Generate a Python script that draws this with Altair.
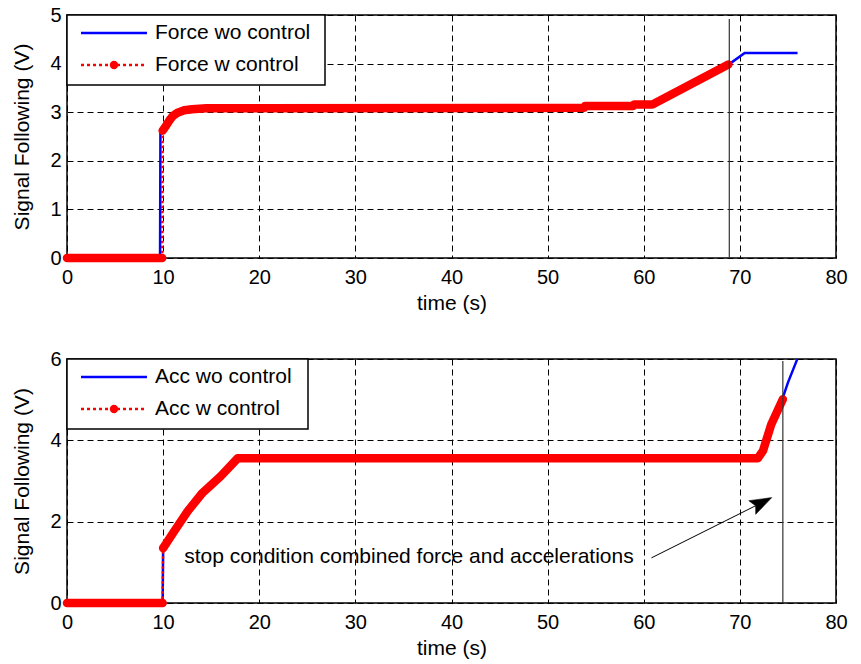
import altair as alt
import pandas as pd

FONT = "Liberation Sans"

# ---------------- data ----------------
x_ticks = [0, 10, 20, 30, 40, 50, 60, 70, 80]
force_y_ticks = [0, 1, 2, 3, 4, 5]
acc_y_ticks = [0, 2, 4, 6]

# Force, without control (blue)
force_wo_t = [0, 9.68, 9.72, 10.3, 10.65, 11.0, 11.5, 12.2, 13.0, 14.5, 53.8, 53.9, 58.9, 59.0, 60.9, 68.9, 70.5, 76.0]
force_wo_v = [0, 0, 2.62, 2.72, 2.83, 2.92, 2.99, 3.04, 3.06, 3.08, 3.09, 3.13, 3.13, 3.16, 3.16, 3.99, 4.22, 4.22]
# Force, with control (red)
force_w_t = [0, 9.9, 9.95, 10.3, 10.65, 11.0, 11.5, 12.2, 13.0, 14.5, 53.8, 53.9, 58.9, 59.0, 60.9, 68.8]
force_w_v = [0, 0, 2.62, 2.72, 2.83, 2.92, 2.99, 3.04, 3.06, 3.08, 3.09, 3.13, 3.13, 3.16, 3.16, 3.98]

# Acceleration, without control (blue)
acc_wo_t = [0, 9.95, 10.0, 11.17, 12.56, 14.1, 16.0, 17.76, 71.87, 72.4, 73.26, 74.47, 75.0, 75.96]
acc_wo_v = [0, 0, 1.35, 1.77, 2.26, 2.71, 3.12, 3.56, 3.56, 3.74, 4.39, 5.05, 5.42, 5.99]
# Acceleration, with control (red)
acc_w_t = [0, 9.95, 10.0, 11.17, 12.56, 14.1, 16.0, 17.76, 71.87, 72.4, 73.26, 74.47]
acc_w_v = [0, 0, 1.35, 1.77, 2.26, 2.71, 3.12, 3.56, 3.56, 3.74, 4.39, 5.01]

force_labels = ["Force wo control", "Force w control"]
acc_labels = ["Acc wo control", "Acc w control"]

# stop-condition vertical lines (time, top value)
force_stop = (68.9, 4.92)
acc_stop = (74.47, 5.95)

annot_text = "stop condition combined force and accelerations"
annot_pos = (12.2, 1.12)
arrow_from = (60.8, 1.11)
arrow_to = (72.3, 2.47)
arrow_angle = 63

BLUE = "#0000ff"
RED = "#ff0000"


def marker_segments(n):
    # the zero plateau and the post-jump part carry dense markers
    return [0, 0] + [1] * (n - 2)


def panel(wo_t, wo_v, w_t, w_v, y_ticks, stop, labels, legend_w, with_annot=False):
    ymax = y_ticks[-1]
    x_enc = alt.X("t:Q", scale=alt.Scale(domain=[0, 80], nice=False, zero=False),
                  axis=alt.Axis(values=x_ticks, title="time (s)"))
    y_enc = alt.Y("v:Q", scale=alt.Scale(domain=[0, ymax], nice=False),
                  axis=alt.Axis(values=y_ticks, title="Signal Following (V)"))

    wo = pd.DataFrame({"t": wo_t, "v": wo_v, "o": list(range(len(wo_t)))})
    w = pd.DataFrame({"t": w_t, "v": w_v, "o": list(range(len(w_t))),
                      "seg": marker_segments(len(w_t))})

    blue = alt.Chart(wo).mark_line(color=BLUE, strokeWidth=2.5).encode(
        x=x_enc, y=y_enc, order="o:Q")
    red_thin = alt.Chart(w).mark_line(color=RED, strokeWidth=2.5, strokeDash=[2.5, 2.5]).encode(
        x="t:Q", y="v:Q", order="o:Q")
    red_band = alt.Chart(w).mark_line(color=RED, strokeWidth=8.5, strokeCap="round",
                                      strokeJoin="round").encode(
        x="t:Q", y="v:Q", detail="seg:N", order="o:Q")

    stop_df = pd.DataFrame({"t": [stop[0]], "top": [stop[1]], "bot": [0]})
    stop_rule = alt.Chart(stop_df).mark_rule(color="#333333", strokeWidth=1.2).encode(
        x="t:Q", y="top:Q", y2="bot:Q")

    layers = [blue, red_thin, red_band, stop_rule]

    if with_annot:
        tdf = pd.DataFrame({"t": [annot_pos[0]], "v": [annot_pos[1]], "label": [annot_text]})
        txt = alt.Chart(tdf).mark_text(align="left", baseline="middle", font=FONT,
                                       fontSize=21, color="black").encode(
            x="t:Q", y="v:Q", text="label:N")
        adf = pd.DataFrame({"t": [arrow_from[0]], "v": [arrow_from[1]],
                            "t2": [arrow_to[0]], "v2": [arrow_to[1]]})
        arrow_line = alt.Chart(adf).mark_rule(color="black", strokeWidth=1).encode(
            x="t:Q", y="v:Q", x2="t2:Q", y2="v2:Q")
        hdf = pd.DataFrame({"t": [arrow_to[0]], "v": [arrow_to[1]]})
        head = alt.Chart(hdf).mark_point(
            shape="M0,-1 L0.7,1 L0,0.65 L-0.7,1 Z", filled=True, fill="black",
            stroke="black", opacity=1, fillOpacity=1, size=480, angle=arrow_angle,
            strokeWidth=0.5).encode(x="t:Q", y="v:Q")
        layers += [txt, arrow_line, head]

    # legend (drawn in pixel space of the plot area)
    one = pd.DataFrame({"a": [0]})
    box = alt.Chart(one).mark_rect(fill="white", stroke="black", strokeWidth=1.5).encode(
        x=alt.value(0), x2=alt.value(legend_w), y=alt.value(0), y2=alt.value(70))
    l1 = alt.Chart(one).mark_rule(color=BLUE, strokeWidth=2.5).encode(
        x=alt.value(14), x2=alt.value(80), y=alt.value(18))
    l2 = alt.Chart(one).mark_rule(color=RED, strokeWidth=2.5, strokeDash=[3, 3]).encode(
        x=alt.value(14), x2=alt.value(80), y=alt.value(50))
    l2p = alt.Chart(one).mark_point(filled=True, color=RED, opacity=1, size=70).encode(
        x=alt.value(47), y=alt.value(50))
    t1 = alt.Chart(pd.DataFrame({"label": [labels[0]]})).mark_text(
        align="left", baseline="middle", font=FONT, fontSize=21, color="black").encode(
        x=alt.value(88), y=alt.value(18), text="label:N")
    t2 = alt.Chart(pd.DataFrame({"label": [labels[1]]})).mark_text(
        align="left", baseline="middle", font=FONT, fontSize=21, color="black").encode(
        x=alt.value(88), y=alt.value(50), text="label:N")
    layers += [box, l1, l2, l2p, t1, t2]

    return alt.layer(*layers)


top = panel(force_wo_t, force_wo_v, force_w_t, force_w_v, force_y_ticks,
            force_stop, force_labels, 258).properties(width=769, height=243)
bottom = panel(acc_wo_t, acc_wo_v, acc_w_t, acc_w_v, acc_y_ticks,
               acc_stop, acc_labels, 241, with_annot=True).properties(width=769, height=244)

chart = alt.vconcat(top, bottom, spacing=34).properties(
    padding={"left": 11, "top": 4, "right": 10, "bottom": 5},
    background="white",
).configure_axis(
    labelFont=FONT, labelFontSize=20, labelColor="black",
    titleFont=FONT, titleFontSize=21, titleFontWeight="normal", titleColor="black",
    grid=True, gridColor="black", gridDash=[6, 4], gridWidth=1, gridOpacity=1,
    domain=False, ticks=False, labelFlush=False, labelOverlap=False, labelBound=False,
).configure_axisX(labelPadding=9, titlePadding=5).configure_axisY(
    labelPadding=6, titlePadding=17
).configure_view(stroke="black", strokeWidth=1.5)

chart.save("out.html", embed_options={"renderer": "svg", "actions": False})
